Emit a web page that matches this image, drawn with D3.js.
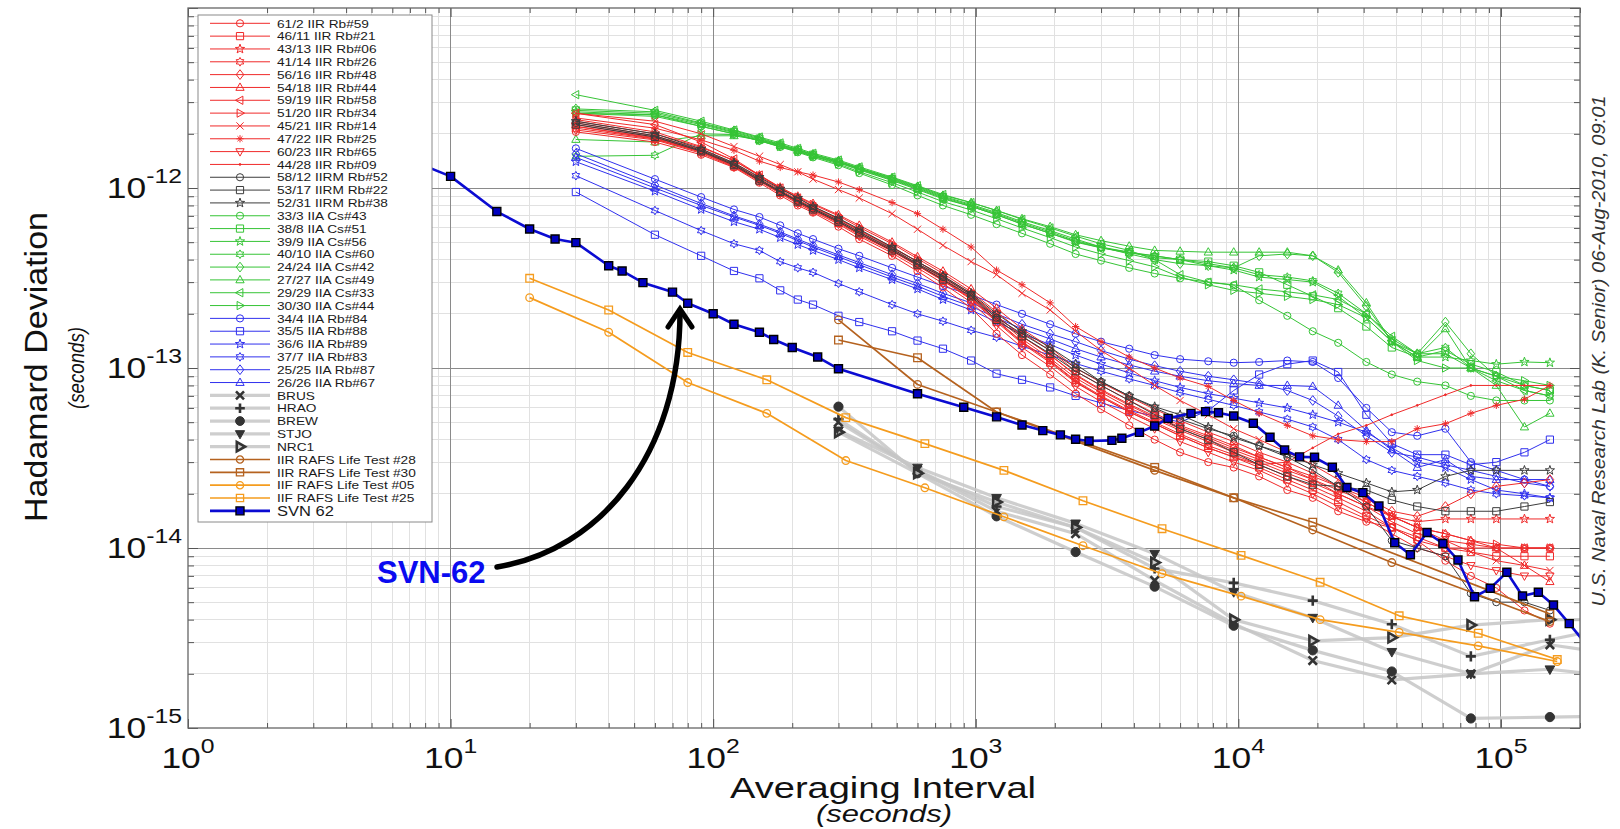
<!DOCTYPE html>
<html><head><meta charset="utf-8">
<script src="https://cdn.jsdelivr.net/npm/d3@7"></script>
<style>
html,body{margin:0;padding:0;background:#fff;}
svg{display:block;}
text{font-family:"Liberation Sans",Arial,Helvetica,sans-serif;}
</style>
</head><body>
<svg id="chart" width="1620" height="829"></svg>
<script>
// ===================== DATA (values in units of 1e-15 s) =====================
const xTickExps = [0, 1, 2, 3, 4, 5];
const yTickExps = [-15, -14, -13, -12];

// common averaging intervals of the GPS on-orbit clock data (s)
const tauClk = [30,60,90,120,150,180,210,240,300,360,480,600,750,960,1200,1500,1920,2400,3000,3840,
  4800,6000,7680,9600,12000,15360,19200,24000,30720,38400,48000,61440,76800,96000,122880,153600];

// IIR Rb (red)
const iir_61_2 = [2050,1800,1530,1300,1070,910,800,730,610,520,420,345,280,215,155,118,92,72,59,48,40,34,30,28,25,21,19,16,14,13,11,8.5,7,6,4.5,3.8];
const iir_46_11 = [2150,1870,1580,1320,1100,940,830,750,640,550,445,370,305,240,180,137,107,83,69,57,49,42,36,32,28,24,21,18,15,13,11.5,10,9.5,9,9,9];
const iir_43_13 = [2250,1920,1610,1350,1120,960,850,770,660,570,455,380,315,250,190,145,113,88,73,60,52,45,39,34,30,26,23,20,17,15,14,14.5,14.5,14.5,14.5,14.5];
const iir_41_14 = [2200,1900,1600,1340,1110,950,840,760,650,560,450,375,310,245,185,140,110,85,70,58,50,43,37,33,29,25,22,19,16,13,11,10,10,10,10,10];
const iir_56_16 = [2300,1950,1640,1370,1140,975,860,780,670,580,465,390,320,255,195,150,118,92,76,63,54,47,41,36,32,28,25,22,19,16,15,17,20,22,23,24];
const iir_54_18 = [2350,2000,1680,1420,1180,1010,900,820,710,620,500,415,345,275,215,165,130,100,83,69,59,51,44,39,34,30,26,22,18,15,13,12,11,10,8,6.5];
const iir_59_19 = [2600,2250,1800,1450,1180,1000,880,790,675,585,470,390,325,258,195,150,118,91,75,62,53,46,40,35,31,27,24,20,17,14,12,11,10.5,10,10,10];
const iir_51_20 = [2400,2050,1700,1420,1170,1000,890,810,700,605,490,405,335,265,205,158,125,96,80,66,56,48,42,37,32,28,24,21,18,15,13,12,11,10.5,10,10];
const iir_45_21 = [2600,2350,2000,1700,1500,1350,1230,1120,980,880,720,590,480,390,330,260,210,160,125,100,80,66,55,46,40,34,29,24,19,15,13,11,9.5,8.5,8,7.5];
const iir_47_22 = [2450,2150,1850,1620,1410,1300,1230,1180,1080,980,830,720,590,470,350,290,230,170,140,115,100,88,79,66,56,48,42,40,39,39,46,49,56,62,67,80];
const iir_60_23 = [2100,1850,1560,1310,1090,930,820,740,630,540,435,360,295,232,172,130,102,79,65,54,46,39,34,30,27,23,20,17,14.5,12,10,9,8,7.5,7,7];
const iir_44_28 = [2200,1880,1590,1330,1100,945,835,755,645,555,447,372,307,243,183,139,109,84,69,57,49,42,36,32,29,30,36,43,48,55,62,71,80,80,80,80];
// IIRM Rb (black)
const iirm_58_12 = [2300,1950,1620,1360,1120,960,850,770,660,570,460,380,320,255,190,155,125,100,84,70,60,52,46,42,37,32,27,22,17,11,10,9,5.6,5,5,4.5];
const iirm_53_17 = [2250,1920,1600,1340,1100,950,840,760,650,560,450,375,310,250,185,150,120,96,80,66,55,46,40,34,29,25,22.5,22,21,18.5,17,16,16,16,17,18];
const iirm_52_31 = [2350,2000,1650,1380,1150,990,880,790,680,590,470,390,325,260,200,160,130,105,84,70,61,55,47,41,37,33,29,26,23,20.5,21,25,27,27,27,27];
// IIA Cs (green)
const iia_33_3 = [2600,2550,2200,2000,1830,1690,1580,1480,1340,1210,1040,910,800,710,630,560,490,430,395,360,335,315,300,288,238,195,160,138,108,92,84,80,70,66,66,66];
const iia_38_8 = [2700,2600,2280,2050,1880,1740,1630,1530,1400,1280,1120,1000,890,800,720,640,570,510,470,440,410,400,390,370,340,290,250,215,170,130,115,125,105,95,80,75];
const iia_39_9 = [2650,2550,2250,2030,1860,1720,1610,1510,1390,1270,1110,990,880,790,710,630,560,500,465,440,420,400,370,350,320,310,300,250,190,140,115,115,110,105,108,107];
const iia_40_10 = [1500,1520,2000,1980,1830,1700,1600,1500,1380,1260,1100,980,870,790,710,630,560,505,465,435,420,400,380,360,330,320,305,260,200,145,120,130,100,90,80,75];
const iia_24_24 = [2750,2650,2300,2080,1900,1750,1640,1540,1410,1290,1130,1010,900,810,730,650,580,520,470,430,400,380,370,360,420,430,420,340,220,140,120,180,120,90,75,70];
const iia_27_27 = [1860,1800,1950,1950,1850,1730,1620,1530,1410,1290,1140,1020,910,830,750,675,610,550,510,475,450,445,440,440,440,440,420,350,230,140,115,165,100,80,47,56];
const iia_29_29 = [3300,2700,2350,2100,1920,1780,1660,1560,1430,1310,1150,1030,920,830,750,670,600,540,490,450,400,330,300,290,275,265,255,240,200,150,120,120,100,85,75,70];
const iia_30_30 = [2600,2500,2200,2000,1840,1700,1590,1500,1360,1230,1070,950,840,755,675,600,530,470,430,395,365,320,290,270,260,250,240,225,190,140,110,100,100,90,85,80];
// IIA Rb (blue)
const iiaRb_34_4 = [1660,1120,890,760,690,620,560,520,460,420,360,320,285,255,225,200,175,155,140,128,118,112,109,107,108,110,108,88,60,44,42,46,30,27,24,22];
const iiaRb_35_5 = [950,550,420,346,315,270,240,225,195,180,160,142,128,110,93,86,78,70,64,58,54,50,58,75,92,105,110,95,55,38,33,33,29,30,34,40];
const iiaRb_36_6 = [1400,960,760,650,590,530,485,450,400,360,310,275,240,210,180,155,135,118,105,94,85,78,72,68,64,60,55,50,44,36,30,28,24,21,20,19];
const iiaRb_37_7 = [1170,750,580,490,450,390,360,340,295,265,225,200,182,162,148,132,118,106,96,87,80,73,67,62,57,52,47,40,31,27,25,23,21,20,19.5,19];
const iiaRb_25_25 = [1550,1040,820,700,630,570,520,480,425,385,330,295,260,230,200,175,155,140,125,112,103,96,90,86,82,75,66,54,42,34,32,29,27,25,23,22];
const iiaRb_26_26 = [1480,1000,800,690,620,560,510,470,415,375,320,285,250,220,190,165,145,128,115,104,96,90,85,82,80,80,79,62,45,35,28,31,25,24,24,24];

// ground stations (gray)
const tauSta = [300,600,1200,2400,4800,9600,19200,38400,76800,153600,307200];
const staBRUS = [50,27,16,12,6.6,3.8,2.37,1.85,2.0,2.9,2.5];
const staHRAO = [52,27,17,13,7.7,6.4,5.1,3.77,2.5,3.09,3.8];
const staBREW = [61,26,15,9.5,6.1,3.7,2.7,2.06,1.13,1.15,1.17];
const staSTJO = [45,28,19,13.7,9.3,5.7,4.1,2.65,2.0,2.12,1.9];
const staNRC1 = [44,26,18,13,8.3,4.0,3.05,3.18,3.73,4.0,4.0];

// RAFS life tests
const tauR28 = [300,600,1200,4800,9600,19200,38400,153600];
const rafsIIR28 = [185,81,57,27,19,12.6,8.3,3.9];
const tauR30 = [300,600,1200,4800,9600,19200,153600];
const rafsIIR30 = [143,114,57,28,19,13.9,4.3];
const tauIIF = [20,40,80,160,320,640,1280,2560,5120,10240,20480,40960,81920,163840];
const rafsIIF05 = [246,158,83,56,30.6,21.6,14.9,10.3,7.2,5.4,4.0,3.4,2.86,2.34];
const rafsIIF25 = [315,210,122,86,53,38,27,18.3,12.8,9.1,6.45,4.2,3.36,2.4];

// SVN 62
const svnTau = [5,10,15,20,25,30,40,45,54,70,80,100,120,150,170,200,250,300,600,900,
  1200,1500,1800,2100,2400,2700,3300,3600,4200,4800,5400,6600,7500,8400,9600,11400,13200,15000,17100,19500,
  22800,25900,29800,34300,39400,45200,52300,60100,68600,79300,91000,105300,120800,138800,158500,182000,230000];
const svnVal = [1750,1160,740,592,521,497,370,346,298,264,229,200,175,158,144,130,115,99,72,60.5,
  53.5,48.2,44.9,42.5,40.2,39.3,39.6,40.7,43.9,47.6,52.5,56,57.2,56.4,54.1,49.3,41.2,35,32.1,31.9,
  28.1,21.7,20.3,17.1,10.7,9.18,12.2,10.6,8.57,5.36,5.97,7.33,5.41,5.68,4.82,3.8,2.5];

// ===================== STYLE =====================
const RED = "#f02a2a", BLK = "#3c3c3c", GRN = "#36c436", BLU = "#3030ee",
      STA_LINE = "#c6c6c6", STA_MK = "#333", BRN = "#b5621f", ORG = "#f59c1e", SVN = "#0b0bd2";

const series = [
  {name:"61/2 IIR Rb#59", c:RED, m:"circle", t:tauClk, v:iir_61_2},
  {name:"46/11 IIR Rb#21", c:RED, m:"square", t:tauClk, v:iir_46_11},
  {name:"43/13 IIR Rb#06", c:RED, m:"star5", t:tauClk, v:iir_43_13},
  {name:"41/14 IIR Rb#26", c:RED, m:"star6", t:tauClk, v:iir_41_14},
  {name:"56/16 IIR Rb#48", c:RED, m:"diamond", t:tauClk, v:iir_56_16},
  {name:"54/18 IIR Rb#44", c:RED, m:"tup", t:tauClk, v:iir_54_18},
  {name:"59/19 IIR Rb#58", c:RED, m:"tleft", t:tauClk, v:iir_59_19},
  {name:"51/20 IIR Rb#34", c:RED, m:"tright", t:tauClk, v:iir_51_20},
  {name:"45/21 IIR Rb#14", c:RED, m:"x", t:tauClk, v:iir_45_21},
  {name:"47/22 IIR Rb#25", c:RED, m:"asterisk", t:tauClk, v:iir_47_22},
  {name:"60/23 IIR Rb#65", c:RED, m:"tdown", t:tauClk, v:iir_60_23},
  {name:"44/28 IIR Rb#09", c:RED, m:"point", t:tauClk, v:iir_44_28},
  {name:"58/12 IIRM Rb#52", c:BLK, m:"circle", t:tauClk, v:iirm_58_12},
  {name:"53/17 IIRM Rb#22", c:BLK, m:"square", t:tauClk, v:iirm_53_17},
  {name:"52/31 IIRM Rb#38", c:BLK, m:"star5", t:tauClk, v:iirm_52_31},
  {name:"33/3 IIA Cs#43", c:GRN, m:"circle", t:tauClk, v:iia_33_3},
  {name:"38/8 IIA Cs#51", c:GRN, m:"square", t:tauClk, v:iia_38_8},
  {name:"39/9 IIA Cs#56", c:GRN, m:"star5", t:tauClk, v:iia_39_9},
  {name:"40/10 IIA Cs#60", c:GRN, m:"star6", t:tauClk, v:iia_40_10},
  {name:"24/24 IIA Cs#42", c:GRN, m:"diamond", t:tauClk, v:iia_24_24},
  {name:"27/27 IIA Cs#49", c:GRN, m:"tup", t:tauClk, v:iia_27_27},
  {name:"29/29 IIA Cs#33", c:GRN, m:"tleft", t:tauClk, v:iia_29_29},
  {name:"30/30 IIA Cs#44", c:GRN, m:"tright", t:tauClk, v:iia_30_30},
  {name:"34/4 IIA Rb#84", c:BLU, m:"circle", t:tauClk, v:iiaRb_34_4},
  {name:"35/5 IIA Rb#88", c:BLU, m:"square", t:tauClk, v:iiaRb_35_5},
  {name:"36/6 IIA Rb#89", c:BLU, m:"star5", t:tauClk, v:iiaRb_36_6},
  {name:"37/7 IIA Rb#83", c:BLU, m:"star6", t:tauClk, v:iiaRb_37_7},
  {name:"25/25 IIA Rb#87", c:BLU, m:"diamond", t:tauClk, v:iiaRb_25_25},
  {name:"26/26 IIA Rb#67", c:BLU, m:"tup", t:tauClk, v:iiaRb_26_26},
  {name:"BRUS", c:STA_LINE, mc:STA_MK, m:"xb", st:true, t:tauSta, v:staBRUS},
  {name:"HRAO", c:STA_LINE, mc:STA_MK, m:"plusb", st:true, t:tauSta, v:staHRAO},
  {name:"BREW", c:STA_LINE, mc:STA_MK, m:"circleF", st:true, t:tauSta, v:staBREW},
  {name:"STJO", c:STA_LINE, mc:STA_MK, m:"tdownF", st:true, t:tauSta, v:staSTJO},
  {name:"NRC1", c:STA_LINE, mc:STA_MK, m:"trightB", st:true, t:tauSta, v:staNRC1},
  {name:"IIR RAFS Life Test #28", c:BRN, m:"circle", rf:true, t:tauR28, v:rafsIIR28},
  {name:"IIR RAFS Life Test #30", c:BRN, m:"square", rf:true, t:tauR30, v:rafsIIR30},
  {name:"IIF RAFS Life Test #05", c:ORG, m:"circle", rf:true, t:tauIIF, v:rafsIIF05},
  {name:"IIF RAFS Life Test #25", c:ORG, m:"square", rf:true, t:tauIIF, v:rafsIIF25},
  {name:"SVN 62", c:SVN, m:"squareF", svn:true, t:svnTau, v:svnVal}
];

// ===================== GEOMETRY =====================
const X0 = 188, X1 = 1580, Y0 = 8, Y1 = 728;
const x = d3.scaleLog().domain([1, 2e5]).range([X0, X1]);
const y = d3.scaleLog().domain([1e-15, 1e-11]).range([Y1, Y0]);
const FS = 1e-15;

function star(n, ro, ri){
  let p = [];
  for (let i = 0; i < 2*n; i++){
    const r = i % 2 ? ri : ro, a = -Math.PI/2 + i*Math.PI/n;
    p.push((r*Math.cos(a)).toFixed(2) + "," + (r*Math.sin(a)).toFixed(2));
  }
  return "M" + p.join("L") + "Z";
}
function circ(s){ return `M${s},0A${s},${s} 0 1,1 ${-s},0A${s},${s} 0 1,1 ${s},0Z`; }
function mk(shape, s){
  switch(shape){
    case "circle": case "circleF": return circ(s);
    case "square": case "squareF": return `M${-s},${-s}H${s}V${s}H${-s}Z`;
    case "diamond": return `M0,${-s*1.35}L${s*1.05},0L0,${s*1.35}L${-s*1.05},0Z`;
    case "tup": return `M0,${-s*1.25}L${s*1.15},${s*0.8}L${-s*1.15},${s*0.8}Z`;
    case "tdown": case "tdownF": return `M0,${s*1.25}L${s*1.15},${-s*0.8}L${-s*1.15},${-s*0.8}Z`;
    case "tleft": return `M${-s*1.25},0L${s*0.8},${-s*1.15}L${s*0.8},${s*1.15}Z`;
    case "tright": case "trightB": return `M${s*1.25},0L${-s*0.8},${-s*1.15}L${-s*0.8},${s*1.15}Z`;
    case "star5": return star(5, s*1.35, s*0.55);
    case "star6": return star(6, s*1.2, s*0.7);
    case "x": case "xb": return `M${-s},${-s}L${s},${s}M${-s},${s}L${s},${-s}`;
    case "plusb": return `M${-s*1.2},0L${s*1.2},0M0,${-s*1.2}L0,${s*1.2}`;
    case "asterisk": return `M${-s},0L${s},0M0,${-s}L0,${s}M${-s*0.7},${-s*0.7}L${s*0.7},${s*0.7}M${-s*0.7},${s*0.7}L${s*0.7},${-s*0.7}`;
    case "point": return circ(0.9);
  }
  return circ(s);
}
function styleMarker(sel, d, s){
  const m = d.m;
  if (d.st){
    const filled = (m === "circleF" || m === "tdownF");
    sel.attr("d", mk(m, m === "circleF" ? s*1.1 : s))
      .attr("fill", filled ? d.mc : "none")
      .attr("stroke", d.mc).attr("stroke-width", filled ? 1 : 2.6);
  } else if (d.svn){
    sel.attr("d", mk(m, s)).attr("fill", "#0000c0").attr("stroke", "#000").attr("stroke-width", 1.4);
  } else {
    sel.attr("d", mk(m, s)).attr("fill", m === "point" ? d.c : "none")
      .attr("stroke", d.c).attr("stroke-width", d.rf ? 1.3 : 1);
  }
}

const svg = d3.select("#chart");
svg.append("rect").attr("width", 1620).attr("height", 829).attr("fill", "#fff");
svg.append("defs").append("clipPath").attr("id", "pc")
  .append("rect").attr("x", X0).attr("y", Y0).attr("width", X1 - X0).attr("height", Y1 - Y0);

// ---------- grid ----------
const xMajor = xTickExps.map(e => Math.pow(10, e));
const xMinor = [];
for (let k = 0; k <= 5; k++) for (let m = 2; m <= 9; m++){ const v = m*Math.pow(10,k); if (v <= 2e5) xMinor.push(v); }
const yMajor = yTickExps.map(e => Math.pow(10, e)).concat([1e-11]);
const yMinor = [];
for (let k = -15; k <= -12; k++) for (let m = 2; m <= 9; m++) yMinor.push(m*Math.pow(10,k));

const grid = svg.append("g").attr("shape-rendering", "crispEdges");
grid.selectAll(".gxm").data(xMinor).join("line")
  .attr("x1", d => x(d)).attr("x2", d => x(d)).attr("y1", Y0).attr("y2", Y1)
  .attr("stroke", "#e1e1e1").attr("stroke-width", 1);
grid.selectAll(".gym").data(yMinor).join("line")
  .attr("y1", d => y(d)).attr("y2", d => y(d)).attr("x1", X0).attr("x2", X1)
  .attr("stroke", "#e1e1e1").attr("stroke-width", 1);
grid.selectAll(".gxM").data(xMajor.slice(1)).join("line")
  .attr("x1", d => x(d)).attr("x2", d => x(d)).attr("y1", Y0).attr("y2", Y1)
  .attr("stroke", "#8a8a8a").attr("stroke-width", 1);
grid.selectAll(".gyM").data([1e-14, 1e-13, 1e-12]).join("line")
  .attr("y1", d => y(d)).attr("y2", d => y(d)).attr("x1", X0).attr("x2", X1)
  .attr("stroke", "#8a8a8a").attr("stroke-width", 1);

// ---------- ticks (inside, all four sides) ----------
function tickAxis(axis, vals, len, tr){
  const g = svg.append("g").attr("transform", tr)
    .call(axis.tickValues(vals).tickSize(-len).tickFormat(""));
  g.select(".domain").remove();
  g.selectAll("line").attr("stroke", "#555").attr("stroke-width", 1);
}
tickAxis(d3.axisBottom(x), xMinor, 5, `translate(0,${Y1})`);
tickAxis(d3.axisBottom(x), xMajor, 9, `translate(0,${Y1})`);
tickAxis(d3.axisTop(x), xMinor, 5, `translate(0,${Y0})`);
tickAxis(d3.axisTop(x), xMajor, 9, `translate(0,${Y0})`);
tickAxis(d3.axisLeft(y), yMinor, 6, `translate(${X0},0)`);
tickAxis(d3.axisLeft(y), yMajor, 10, `translate(${X0},0)`);
tickAxis(d3.axisRight(y), yMinor, 6, `translate(${X1},0)`);
tickAxis(d3.axisRight(y), yMajor, 10, `translate(${X1},0)`);

// ---------- data ----------
const plot = svg.append("g").attr("clip-path", "url(#pc)");
const line = d3.line().x(p => x(p[0])).y(p => y(p[1]*FS));
const drawOrder = series.filter(d => d.c === GRN)
  .concat(series.filter(d => d.c === BLU), series.filter(d => d.c === RED), series.filter(d => d.c === BLK),
          series.filter(d => d.st), series.filter(d => d.rf), series.filter(d => d.svn));
drawOrder.forEach(d => {
  const pts = d.t.map((t, i) => [t, d.v[i]]);
  const g = plot.append("g");
  g.append("path").attr("d", line(pts)).attr("fill", "none")
    .attr("stroke", d.c)
    .attr("stroke-width", d.svn ? 2.6 : d.st ? 3.2 : d.rf ? 1.7 : 1)
    .attr("stroke-opacity", d.st ? 0.85 : 1)
    .attr("stroke-linejoin", "round");
  g.selectAll("path.mk").data(pts).join("path").attr("class", "mk")
    .attr("transform", p => `translate(${x(p[0])},${y(p[1]*FS)})`)
    .each(function(){ styleMarker(d3.select(this), d, d.svn ? 4 : d.st ? 4.2 : d.rf ? 3.8 : 3.6); });
});

// ---------- axes box ----------
svg.append("rect").attr("x", X0).attr("y", Y0).attr("width", X1 - X0).attr("height", Y1 - Y0)
  .attr("fill", "none").attr("stroke", "#666").attr("stroke-width", 1.3);

// ---------- tick labels ----------
const SX = 1.18;
xTickExps.forEach(e => {
  const g = svg.append("g").attr("transform", `translate(${x(Math.pow(10,e))},768) scale(${SX},1)`);
  const t = g.append("text").attr("text-anchor", "middle").attr("fill", "#111");
  t.append("tspan").attr("font-size", 30).text("10");
  t.append("tspan").attr("font-size", 21).attr("dy", -15).text(e);
});
yTickExps.forEach(e => {
  const g = svg.append("g").attr("transform", `translate(182,${y(Math.pow(10,e)) + 10}) scale(${SX},1)`);
  const t = g.append("text").attr("text-anchor", "end").attr("fill", "#111");
  t.append("tspan").attr("font-size", 30).text("10");
  t.append("tspan").attr("font-size", 21).attr("dy", -15).text(e);
});

// ---------- axis titles ----------
svg.append("text").attr("x", 883).attr("y", 798).attr("text-anchor", "middle")
  .attr("font-size", 30).attr("textLength", 306).attr("lengthAdjust", "spacingAndGlyphs")
  .attr("fill", "#111").text("Averaging Interval");
svg.append("text").attr("x", 884).attr("y", 822).attr("text-anchor", "middle")
  .attr("font-size", 23).attr("font-style", "italic").attr("textLength", 136).attr("lengthAdjust", "spacingAndGlyphs")
  .attr("fill", "#111").text("(seconds)");
svg.append("text").attr("transform", "translate(47,367) rotate(-90)").attr("text-anchor", "middle")
  .attr("font-size", 31).attr("textLength", 310).attr("lengthAdjust", "spacingAndGlyphs")
  .attr("fill", "#111").text("Hadamard Deviation");
svg.append("text").attr("transform", "translate(84,368) rotate(-90)").attr("text-anchor", "middle")
  .attr("font-size", 22).attr("font-style", "italic").attr("textLength", 82).attr("lengthAdjust", "spacingAndGlyphs")
  .attr("fill", "#111").text("(seconds)");
svg.append("text").attr("transform", "translate(1605,351) rotate(-90)").attr("text-anchor", "middle")
  .attr("font-size", 18).attr("font-style", "italic").attr("textLength", 511).attr("lengthAdjust", "spacingAndGlyphs")
  .attr("fill", "#333").text("U.S. Naval Research Lab (K. Senior) 06-Aug-2010, 09:01");

// ---------- legend ----------
const LG = svg.append("g");
LG.append("rect").attr("x", 198).attr("y", 15).attr("width", 234).attr("height", 507)
  .attr("fill", "#fff").attr("stroke", "#8a8a8a").attr("stroke-width", 1);
series.forEach((d, i) => {
  const cy = 23.3 + 12.83*i;
  LG.append("line").attr("x1", 210).attr("x2", 270).attr("y1", cy).attr("y2", cy)
    .attr("stroke", d.c).attr("stroke-width", d.svn ? 2.6 : d.st ? 3.2 : d.rf ? 1.7 : 1)
    .attr("stroke-opacity", d.st ? 0.85 : 1);
  const mp = LG.append("path").attr("transform", `translate(240,${cy})`);
  styleMarker(mp, d, d.svn ? 4 : d.st ? 4 : 3.6);
  const g = LG.append("g").attr("transform", `translate(277,${cy + (d.svn ? 5 : 4.2)}) scale(${SX},1)`);
  g.append("text").attr("font-size", d.svn ? 14 : 11.6).attr("fill", "#1a1a1a").text(d.name);
});

// ---------- annotation ----------
svg.append("text").attr("x", 377).attr("y", 583).attr("font-size", 31).attr("font-weight", "bold")
  .attr("fill", "#0a0af0").text("SVN-62");
svg.append("path").attr("d", "M497,567 C600,550 680,455 680,312")
  .attr("fill", "none").attr("stroke", "#000").attr("stroke-width", 5.5).attr("stroke-linecap", "round");
svg.append("path").attr("d", "M668,327 L680,309 L692,327")
  .attr("fill", "none").attr("stroke", "#000").attr("stroke-width", 5).attr("stroke-linecap", "round").attr("stroke-linejoin", "miter");
</script>
</body></html>
